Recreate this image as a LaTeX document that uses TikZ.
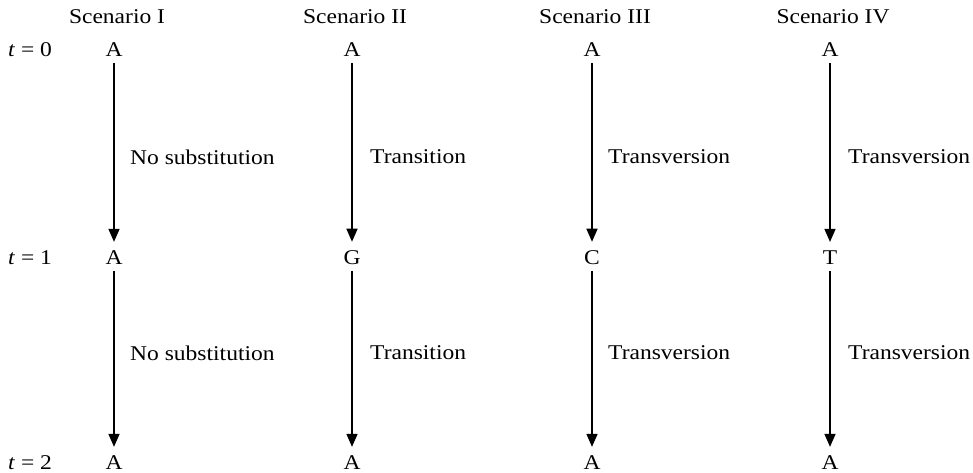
\documentclass[tikz,border=0pt]{standalone}
\usepackage{fontspec}
\setmainfont[FakeStretch=1.12]{Liberation Serif}
\usetikzlibrary{arrows.meta}
\begin{document}
\begin{tikzpicture}[x=1pt,y=-1pt,
  every node/.style={font=\fontsize{21}{25}\selectfont},
  base/.style={inner sep=6pt},
  lbl/.style={anchor=west,inner sep=0pt},
  tl/.style={anchor=west,inner sep=0pt},
  arr/.style={-{Triangle[length=13pt,width=11pt]},line width=1.5pt,shorten >=3pt}]
\useasboundingbox (0,0) rectangle (973,473);
\foreach \x/\n/\t in {114/1/I,352/2/II,592/3/III,830/4/IV}{
  \node[inner sep=0pt] (s\n) at (\x+3,17) {Scenario \t};
}
\node[tl] (t0) at (8,50) {\textit{t} = 0};
\node[tl] (t1) at (8,258) {\textit{t} = 1};
\node[tl] (t2) at (8,463) {\textit{t} = 2};
% column 1
\node[base] (a0) at (114,50) {A};
\node[base] (a1) at (114,258) {A};
\node[base] (a2) at (114,463) {A};
% column 2
\node[base] (b0) at (352,50) {A};
\node[base] (b1) at (352,258) {G};
\node[base] (b2) at (352,463) {A};
% column 3
\node[base] (c0) at (592,50) {A};
\node[base] (c1) at (592,258) {C};
\node[base] (c2) at (592,463) {A};
% column 4
\node[base] (d0) at (830,50) {A};
\node[base] (d1) at (830,258) {T};
\node[base] (d2) at (830,463) {A};
\foreach \c in {a,b,c,d}{
  \draw[arr] (\c0) -- (\c1);
  \draw[arr] (\c1) -- (\c2);
}
\node[lbl] (la1) at (130,157) {No substitution};
\node[lbl] (la2) at (130,353) {No substitution};
\node[lbl] (lb1) at (370,157) {Transition};
\node[lbl] (lb2) at (370,353) {Transition};
\node[lbl] (lc1) at (608,157) {Transversion};
\node[lbl] (lc2) at (608,353) {Transversion};
\node[lbl] (ld1) at (848,157) {Transversion};
\node[lbl] (ld2) at (848,353) {Transversion};
\end{tikzpicture}
\end{document}
